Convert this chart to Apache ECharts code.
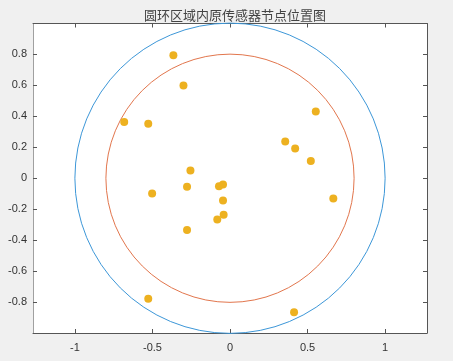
<!DOCTYPE html>
<html>
<head>
<meta charset="utf-8">
<script src="https://cdn.jsdelivr.net/npm/echarts@6/dist/echarts.min.js"></script>
<style>
html,body{margin:0;padding:0;background:#f0f0f0;}
#c{width:453px;height:361px;}
</style>
</head>
<body>
<div id="c"></div>
<script>
const titleText = '圆环区域内原传感器节点位置图';
const nodeX = [-0.365, -0.300, 0.553, -0.682, -0.527, 0.356, 0.420, 0.521, -0.255, -0.277, -0.502, -0.071, -0.045, -0.045, 0.666, -0.041, -0.082, -0.277, -0.527, 0.413];
const nodeY = [0.795, 0.600, 0.431, 0.363, 0.352, 0.238, 0.193, 0.112, 0.050, -0.055, -0.098, -0.051, -0.041, -0.143, -0.131, -0.236, -0.266, -0.334, -0.778, -0.866];
const circleRadii = [1, 0.8];
const circleColors = ['#3d97d8', '#e2764d'];
const xTicks = [-1, -0.5, 0, 0.5, 1];
const yTicks = [-0.8, -0.6, -0.4, -0.2, 0, 0.2, 0.4, 0.6, 0.8];
const xRange = [-1.27, 1.27];
const yRange = [-1, 1];

const chart = echarts.init(document.getElementById('c'), null, {renderer: 'canvas'});
const axisColor = '#555555';
const labelStyle = {color: '#333333', fontSize: 11, fontFamily: 'Liberation Sans, Arial, sans-serif'};

function mkX(pos, showLabel) {
  return {
    type: 'value', position: pos, min: xRange[0], max: xRange[1],
    axisLine: {show: true, onZero: false, lineStyle: {color: axisColor, width: 1}},
    axisTick: {show: true, inside: true, length: 4, customValues: xTicks, lineStyle: {color: axisColor}},
    axisLabel: {show: showLabel, customValues: xTicks, margin: 9, ...labelStyle, formatter: v => String(v)},
    splitLine: {show: false}
  };
}
function mkY(pos, showLabel) {
  return {
    type: 'value', position: pos, min: yRange[0], max: yRange[1],
    axisLine: {show: true, onZero: false, lineStyle: {color: pos === 'left' ? '#a0a0a0' : axisColor, width: 1}},
    axisTick: {show: true, inside: true, length: 4, customValues: yTicks, lineStyle: {color: axisColor}},
    axisLabel: {show: showLabel, customValues: yTicks, margin: 6, ...labelStyle, formatter: v => String(v)},
    splitLine: {show: false}
  };
}

const circleSeries = circleRadii.map((r, i) => ({
  type: 'custom',
  coordinateSystem: 'cartesian2d',
  xAxisIndex: 0, yAxisIndex: 0,
  data: [[0, 0, r]],
  silent: true,
  z: 2,
  renderItem: function (params, api) {
    const c = api.coord([api.value(0), api.value(1)]);
    const rad = api.size([api.value(2), 0])[0];
    return {
      type: 'circle',
      shape: {cx: c[0], cy: c[1], r: rad},
      style: {fill: null, stroke: circleColors[i], lineWidth: 1}
    };
  }
}));

chart.setOption({
  backgroundColor: '#f0f0f0',
  animation: false,
  title: {
    text: titleText, left: 230, top: 4, textAlign: 'center',
    textStyle: {fontSize: 13, fontWeight: 'normal', color: '#444444', fontFamily: 'Noto Sans CJK SC'}
  },
  grid: {left: 33, right: 26, top: 23.5, bottom: 28, show: true, backgroundColor: '#ffffff', borderWidth: 0},
  xAxis: [mkX('bottom', true), mkX('top', false)],
  yAxis: [mkY('left', true), mkY('right', false)],
  series: circleSeries.concat([{
    type: 'scatter',
    xAxisIndex: 0, yAxisIndex: 0,
    data: nodeX.map((x, i) => [x, nodeY[i]]),
    symbol: 'circle', symbolSize: 8,
    itemStyle: {color: '#edb120', opacity: 1},
    z: 3
  }])
});
</script>
</body>
</html>
